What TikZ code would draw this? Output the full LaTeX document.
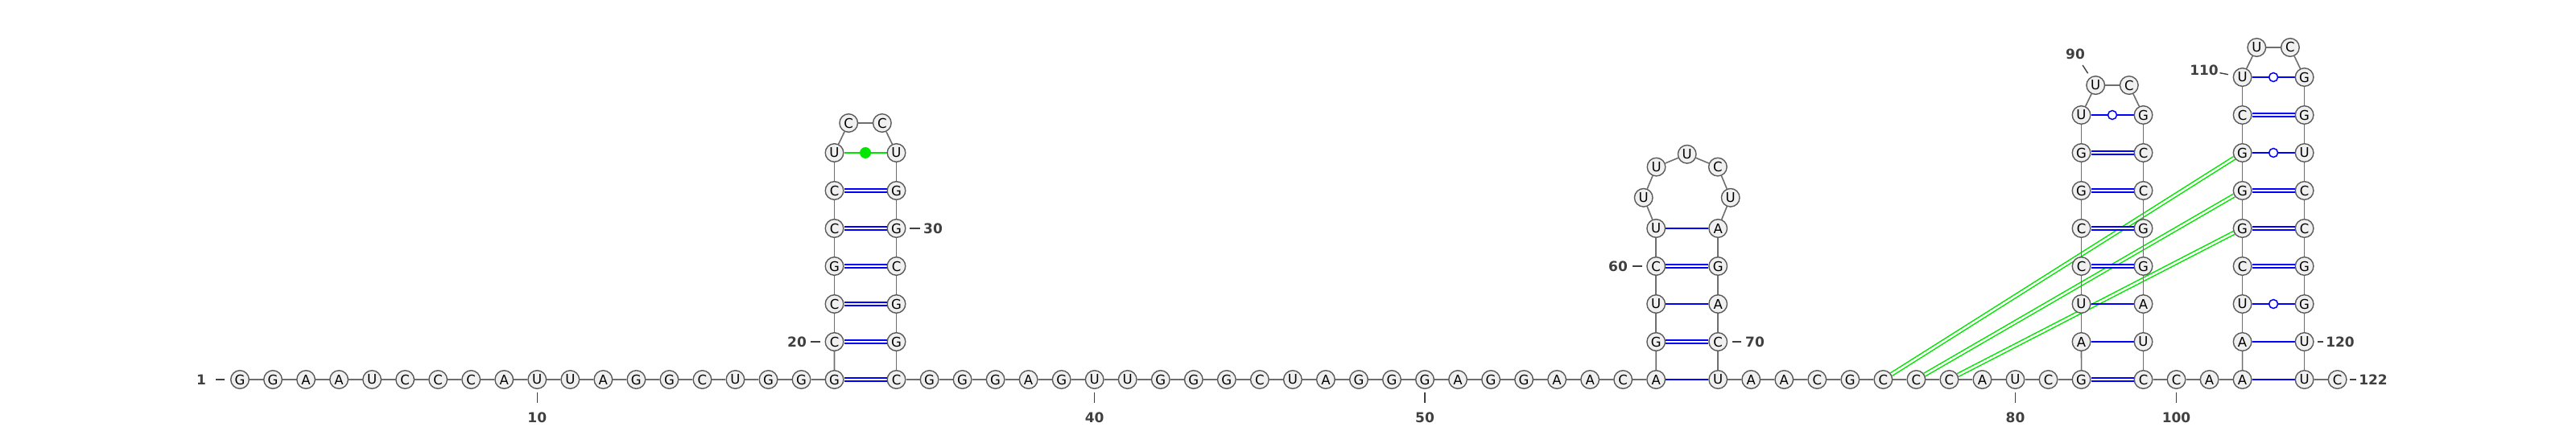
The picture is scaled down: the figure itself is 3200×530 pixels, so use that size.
\documentclass[tikz,border=0pt]{standalone}
\usepackage{fontspec}
\setmainfont{DejaVu Sans}
\usetikzlibrary{backgrounds}
\definecolor{basefill}{RGB}{240,240,240}
\definecolor{basedraw}{RGB}{90,90,90}
\definecolor{bbgray}{RGB}{110,110,110}
\definecolor{labgray}{RGB}{64,64,64}
\definecolor{ncgreen}{RGB}{0,230,0}

\begin{document}
\begin{tikzpicture}[x=1pt,y=1pt,
   base/.style={circle,draw=basedraw,fill=basefill,line width=1.4pt,
      minimum size=22.6pt,inner sep=0pt,font=\fontsize{16.5}{16.5}\selectfont},
   bbone/.style={draw=bbgray,line width=1.6pt},
   gc/.style={draw=blue,line width=1.6pt,double=white,double distance=2.2pt},
   au/.style={draw=blue,line width=1.6pt},
   wobble/.style={circle,draw=blue,fill=white,line width=1.5pt,minimum size=11pt,inner sep=0pt},
   nc/.style={draw=ncgreen,line width=1.7pt},
   ncdot/.style={circle,fill=ncgreen,minimum size=14pt,inner sep=0pt},
   pk/.style={draw=ncgreen,line width=1.5pt,double=white,double distance=2.6pt},
   numlab/.style={text=labgray,inner sep=0pt,font=\fontsize{17}{17}\selectfont\bfseries},
   numtick/.style={draw=labgray,line width=1.4pt}]
\useasboundingbox (0,0) rectangle (3200,530);

% 5' strand up to the first hairpin
\foreach \b [count=\i from 1] in {G,G,A,A,U,C,C,C,A,U,U,A,G,G,C,U,G,G,G}
  \node[base] (n\i) at ({298+41.03*(\i-1)},58) {\b};
% hairpin 19-34
\foreach \b [count=\i from 20] in {C,C,G,C,C,U}
  \node[base] (n\i) at (1036.5,{58+47*(\i-19)}) {\b};
\node[base] (n26) at (1054.2,377) {C};
\node[base] (n27) at (1095.8,377) {C};
\foreach \b [count=\i from 28] in {U,G,G,C,G,G}
  \node[base] (n\i) at (1113.5,{58+47*(34-\i)}) {\b};
\foreach \b [count=\i from 34] in {C,G,G,G,A,G,U,U,G,G,G,C,U,A,G,G,G,A,G,G,A,A,C,A}
  \node[base] (n\i) at ({1113.5+41.03*(\i-34)},58) {\b};
% hairpin 57-71, round loop
\foreach \b [count=\i from 58] in {G,U,C,U}
  \node[base] (n\i) at (2057.2,{58+47*(\i-57)}) {\b};
\begin{scope}[shift={(2095.7,284.2)}]
\foreach \b/\a [count=\i from 62] in {U/180,U/135,U/90,C/45,U/0}
  \node[base] (n\i) at (\a:54) {\b};
\end{scope}
\foreach \b [count=\i from 67] in {A,G,A,C}
  \node[base] (n\i) at (2134.2,{58+47*(71-\i)}) {\b};
\foreach \b [count=\i from 71] in {U,A,A,C,G,C,C,C,A,U,C,G}
  \node[base] (n\i) at ({2134.2+41.03*(\i-71)},58) {\b};
% hairpin 82-99
\foreach \b [count=\i from 83] in {A,U,C,C,G,G,U}
  \node[base] (n\i) at (2585.5,{58+47*(\i-82)}) {\b};
\node[base] (n90) at (2603.2,424) {U};
\node[base] (n91) at (2644.8,424) {C};
\foreach \b [count=\i from 92] in {G,C,C,G,G,A,U}
  \node[base] (n\i) at (2662.5,{58+47*(99-\i)}) {\b};
\foreach \b [count=\i from 99] in {C,C,A,A}
  \node[base] (n\i) at ({2662.5+41.03*(\i-99)},58) {\b};
% hairpin 102-121
\foreach \b [count=\i from 103] in {A,U,C,G,G,G,C,U}
  \node[base] (n\i) at (2785.6,{58+47*(\i-102)}) {\b};
\node[base] (n111) at (2803.3,471) {U};
\node[base] (n112) at (2844.9,471) {C};
\foreach \b [count=\i from 113] in {G,G,U,C,C,G,G,U}
  \node[base] (n\i) at (2862.6,{58+47*(121-\i)}) {\b};
\node[base] (n121) at (2862.6,58) {U};
\node[base] (n122) at (2903.6,58) {C};

\begin{scope}[on background layer]
% pseudoknot
\foreach \a/\b in {76/108,77/107,78/106}
  \draw[pk] (n\a) -- (n\b);
\foreach \i [evaluate=\i as \j using int(\i+1)] in {1,...,121}
  \draw[bbone] (n\i) -- (n\j);
\foreach \a/\b in {19/34,20/33,21/32,22/31,23/30,24/29,58/70,60/68,82/99,85/96,
    86/95,87/94,88/93,105/118,106/117,107/116,109/114}
  \draw[gc] (n\a) -- (n\b);
\foreach \a/\b in {57/71,59/69,61/67,83/98,84/97,102/121,103/120}
  \draw[au] (n\a) -- (n\b);
\foreach \a/\b in {89/92,104/119,108/115,110/113}
  \draw[au] (n\a) -- node[wobble] {} (n\b);
\draw[nc] (n25) -- node[ncdot] {} (n28);
\end{scope}

% numbering
\coordinate (low) at (0,11);
\foreach \n in {10,40,50,80,100} {
  \node[numlab] (l\n) at (n\n |- low) {\n};
  \draw[numtick,shorten <=4pt,shorten >=11.8pt] (n\n) -- (l\n);
}
\node[numlab] (l1) at (250,58) {1};
\draw[numtick,shorten <=7pt,shorten >=12pt] (n1) -- (l1);
\node[numlab] (l20) at (990,105) {20};
\draw[numtick,shorten <=5.5pt,shorten >=5.2pt] (n20) -- (l20);
\node[numlab] (l30) at (1159,246) {30};
\draw[numtick,shorten <=4.5pt,shorten >=4.2pt] (n30) -- (l30);
\node[numlab] (l60) at (2010,199) {60};
\draw[numtick,shorten <=5.2pt,shorten >=6.2pt] (n60) -- (l60);
\node[numlab] (l70) at (2180,105) {70};
\draw[numtick,shorten <=5.8pt,shorten >=5.2pt] (n70) -- (l70);
\node[numlab] (l90) at (2578,463) {90};
\draw[numtick,shorten <=5.6pt,shorten >=8.9pt] (n90) -- (l90);
\node[numlab] (l110) at (2738,443) {110};
\draw[numtick,shorten <=6pt,shorten >=1.5pt] (n110) -- (l110);
\node[numlab] (l120) at (2907,105) {120};
\draw[numtick,shorten <=4.4pt,shorten >=3.3pt] (n120) -- (l120);
\node[numlab] (l122) at (2948,58) {122};
\draw[numtick,shorten <=3.4pt,shorten >=3.3pt] (n122) -- (l122);
\end{tikzpicture}
\end{document}
